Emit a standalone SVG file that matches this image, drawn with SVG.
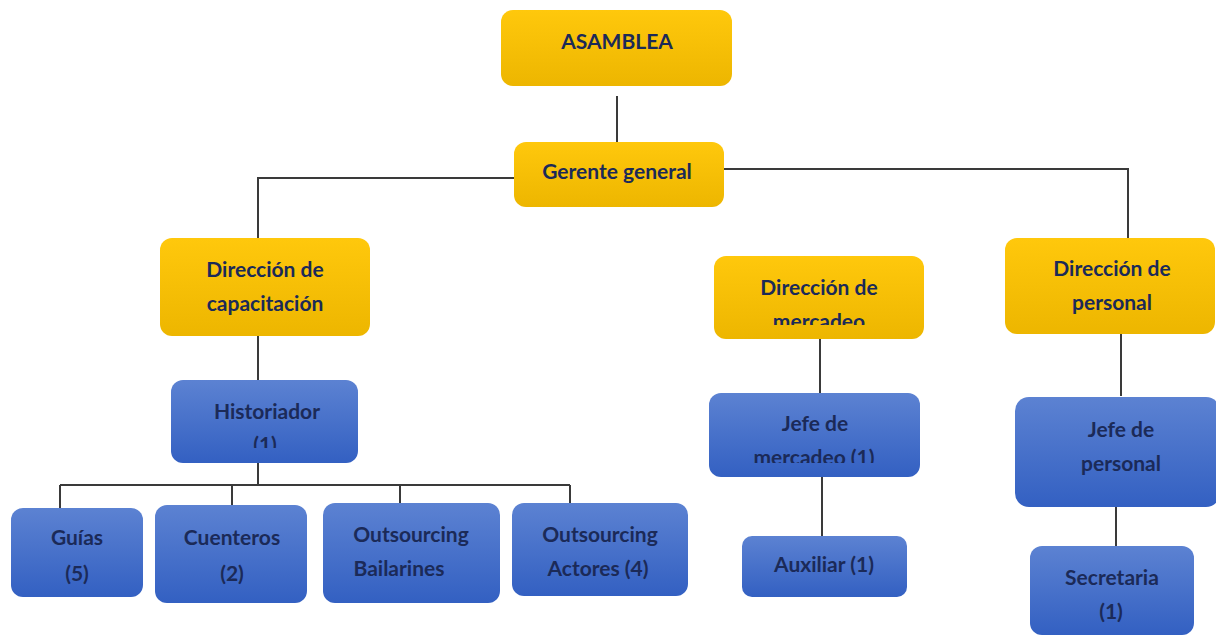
<svg xmlns="http://www.w3.org/2000/svg" width="1216" height="636" viewBox="0 0 1216 636">
<defs>
<linearGradient id="gy" x1="0" y1="0" x2="0" y2="1"><stop offset="0" stop-color="#FFC80C"/><stop offset="1" stop-color="#EDB600"/></linearGradient>
<linearGradient id="gb" x1="0" y1="0" x2="0" y2="1"><stop offset="0" stop-color="#5C82D2"/><stop offset="1" stop-color="#3360C2"/></linearGradient>
<clipPath id="c-merc"><rect x="714" y="256" width="210" height="69"/></clipPath>
<clipPath id="c-hist"><rect x="171" y="380" width="187" height="68"/></clipPath>
<clipPath id="c-jefem"><rect x="709" y="393" width="211" height="70"/></clipPath>
</defs>
<style>
.y{fill:url(#gy);}
.b{fill:url(#gb);}
text{font-family:Lato,"Liberation Sans",sans-serif;font-weight:bold;font-size:21px;fill:#1B2A58;text-anchor:middle;}
.ln{stroke:#3a3a3a;stroke-width:2;fill:none;}
</style>
<g id="connectors">
<path class="ln" d="M617 96V142"/>
<path class="ln" d="M514 178H258V238"/>
<path class="ln" d="M724 169H1128V238"/>
<path class="ln" d="M258 326V381"/>
<path class="ln" d="M258 463V485"/>
<path class="ln" d="M60 485H570"/>
<path class="ln" d="M60 485V508M232 485V505M400 485V503M570 485V503"/>
<path class="ln" d="M820 333V394"/>
<path class="ln" d="M822 477V537"/>
<path class="ln" d="M1121 332V396"/>
<path class="ln" d="M1116 501V566"/>
</g>
<g id="asamblea"><rect class="y" x="501" y="10" width="231" height="76" rx="12"/><text x="617" y="49">ASAMBLEA</text></g>
<g id="gerente"><rect class="y" x="514" y="142" width="210" height="65" rx="12"/><text x="617" y="179">Gerente general</text></g>
<g id="dir-capacitacion"><rect class="y" x="160" y="238" width="210" height="98" rx="12"/><text x="265" y="277">Dirección de</text><text x="265" y="311">capacitación</text></g>
<g id="dir-mercadeo"><rect class="y" x="714" y="256" width="210" height="83" rx="12"/><text x="819" y="295">Dirección de</text><text x="819" y="329" clip-path="url(#c-merc)">mercadeo</text></g>
<g id="dir-personal"><rect class="y" x="1005" y="238" width="210" height="96" rx="12"/><text x="1112" y="276">Dirección de</text><text x="1112" y="310">personal</text></g>
<g id="historiador"><rect class="b" x="171" y="380" width="187" height="83" rx="12"/><text x="267" y="419">Historiador</text><text x="265" y="452" clip-path="url(#c-hist)">(1)</text></g>
<g id="jefe-mercadeo"><rect class="b" x="709" y="393" width="211" height="84" rx="12"/><text x="815" y="431">Jefe de</text><text x="814" y="465" clip-path="url(#c-jefem)">mercadeo (1)</text></g>
<g id="jefe-personal"><rect class="b" x="1015" y="397" width="205" height="110" rx="14"/><text x="1121" y="437">Jefe de</text><text x="1121" y="471">personal</text></g>
<g id="guias"><rect class="b" x="11" y="508" width="132" height="89" rx="12"/><text x="77" y="545">Guías</text><text x="77" y="581">(5)</text></g>
<g id="cuenteros"><rect class="b" x="155" y="505" width="152" height="98" rx="12"/><text x="232" y="545">Cuenteros</text><text x="232" y="581">(2)</text></g>
<g id="bailarines"><rect class="b" x="323" y="503" width="177" height="100" rx="12"/><text x="411" y="542">Outsourcing</text><text x="399" y="576">Bailarines</text></g>
<g id="actores"><rect class="b" x="512" y="503" width="176" height="93" rx="12"/><text x="600" y="542">Outsourcing</text><text x="598" y="576">Actores (4)</text></g>
<g id="auxiliar"><rect class="b" x="742" y="536" width="165" height="61" rx="10"/><text x="824" y="572">Auxiliar (1)</text></g>
<g id="secretaria"><rect class="b" x="1030" y="546" width="164" height="89" rx="12"/><text x="1112" y="585">Secretaria</text><text x="1111" y="619">(1)</text></g>
</svg>
